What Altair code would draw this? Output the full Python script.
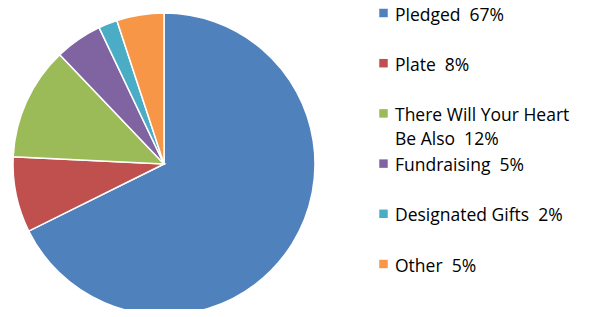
import altair as alt
import pandas as pd

categories = ["Pledged", "Plate", "There Will Your Heart Be Also", "Fundraising", "Designated Gifts", "Other"]
percents = [67, 8, 12, 5, 2, 5]
legend_labels = [
    "Pledged\u00a0\u00a067%",
    "Plate\u00a0\u00a08%",
    "There Will Your Heart\nBe Also\u00a0\u00a012%",
    "Fundraising\u00a0\u00a05%",
    "Designated Gifts\u00a0\u00a02%",
    "Other\u00a0\u00a05%",
]
colors = ["#4F81BD", "#C0504D", "#9BBB59", "#8064A2", "#4BACC6", "#F79646"]

df = pd.DataFrame({
    "category": categories,
    "value": percents,
    "label": legend_labels,
    "order": list(range(len(categories))),
})

color = alt.Color("category:N", scale=alt.Scale(domain=categories, range=colors), legend=None)

pie = alt.Chart(df).mark_arc(radius=151, stroke="white", strokeWidth=1.5).encode(
    theta=alt.Theta("value:Q", stack=True),
    order=alt.Order("order:Q"),
    color=color,
    x=alt.value(156),
    y=alt.value(156),
)

ypos = alt.Y("category:N", sort=categories, axis=None,
             scale=alt.Scale(type="point", range=[5, 256], padding=0))

squares = alt.Chart(df).mark_square(size=72, opacity=1).encode(
    x=alt.value(375.5),
    y=ypos,
    color=color,
)

texts = alt.Chart(df).mark_text(
    align="left", baseline="alphabetic", dy=7.5, fontSize=17.5, font="Open Sans",
    color="#000000", lineBreak="\n", lineHeight=24,
).encode(
    x=alt.value(387),
    y=ypos,
    text="label:N",
)

chart = alt.layer(pie, squares, texts).properties(
    width=579, height=301, padding=0, autosize="none"
).configure_view(stroke=None)

chart.save("out.html", embed_options={"renderer": "svg", "actions": False})
